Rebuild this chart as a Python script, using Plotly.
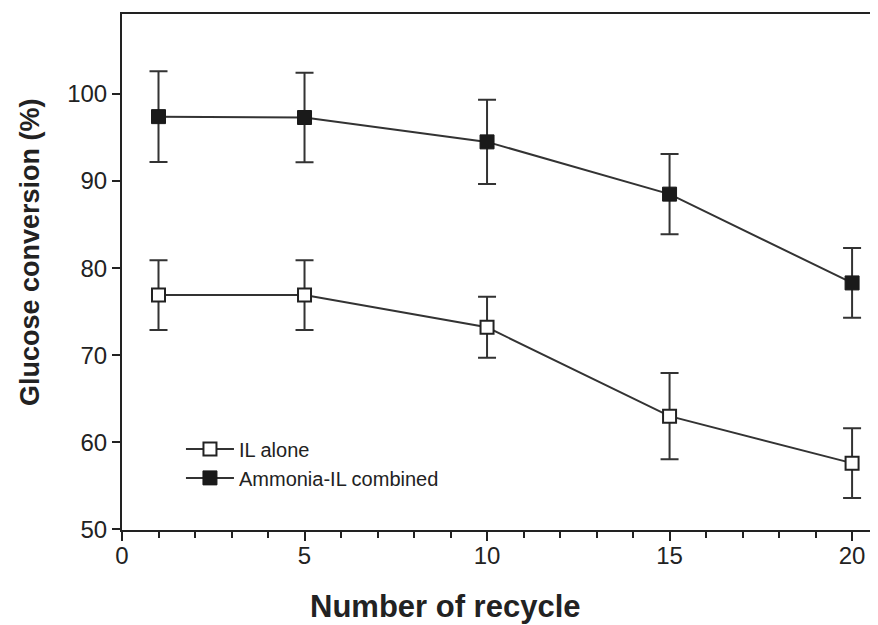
import plotly.graph_objects as go

cycles = [1, 5, 10, 15, 20]
il_alone = [76.9, 76.9, 73.2, 63.0, 57.6]
il_alone_err = [4.0, 4.0, 3.5, 4.95, 4.0]
ammonia_il = [97.4, 97.3, 94.5, 88.5, 78.3]
ammonia_il_err = [5.2, 5.15, 4.85, 4.6, 4.0]

x_ticks = [0, 5, 10, 15, 20]
y_ticks = [50, 60, 70, 80, 90, 100]

FONT = "Liberation Sans, Arial, sans-serif"
INK = "#222222"

# page body has an 8px margin, so the figure is offset by (8, 8)
OFF = 8
W, H = 878 - OFF, 625 - OFF
L, T, B = 122 - OFF, 14 - OFF, 625 - 530
PW, PH = W - L, H - T - B

fig = go.Figure()
fig.add_trace(go.Scatter(
    x=cycles, y=il_alone, name="IL alone", mode="lines+markers",
    line=dict(color="#333333", width=2),
    marker=dict(symbol="square", size=13, color="white", line=dict(color="#222222", width=2)),
    error_y=dict(type="data", array=il_alone_err, visible=True, color="#333333", thickness=2, width=9),
))
fig.add_trace(go.Scatter(
    x=cycles, y=ammonia_il, name="Ammonia-IL combined", mode="lines+markers",
    line=dict(color="#333333", width=2),
    marker=dict(symbol="square", size=14, color="#1a1a1a", line=dict(color="#1a1a1a", width=1)),
    error_y=dict(type="data", array=ammonia_il_err, visible=True, color="#333333", thickness=2, width=9),
))

fig.update_layout(
    width=W, height=H,
    margin=dict(l=L, r=0, t=T, b=B),
    paper_bgcolor="white", plot_bgcolor="white",
    font=dict(family=FONT, color=INK),
    showlegend=True,
    legend=dict(x=0.078, y=0.195, xanchor="left", yanchor="top",
                font=dict(size=20, color=INK), bgcolor="rgba(0,0,0,0)",
                tracegroupgap=0, itemwidth=48),
    xaxis=dict(range=[0, 20.71], tickvals=x_ticks, showgrid=False, zeroline=False,
               showline=True, linecolor="#222222", linewidth=2, mirror=True,
               ticks="outside", ticklen=9, tickwidth=2, tickcolor="#222222",
               tickfont=dict(size=24, color=INK), ticklabelstandoff=-6,
               minor=dict(dtick=1, ticks="outside", ticklen=6, tickwidth=2, tickcolor="#222222", showgrid=False)),
    yaxis=dict(range=[49.92, 109.19], tickvals=y_ticks, showgrid=False, zeroline=False,
               showline=True, linecolor="#222222", linewidth=2,
               ticks="outside", ticklen=8, tickwidth=2, tickcolor="#222222",
               tickfont=dict(size=24, color=INK)),
    annotations=[
        dict(text="<b>Number of recycle</b>", xref="paper", yref="paper",
             x=(445 - 122) / PW, y=-(606 - 530) / PH, xanchor="center", yanchor="middle",
             showarrow=False, font=dict(size=31, color=INK)),
        dict(text="<b>Glucose conversion (%)</b>", xref="paper", yref="paper",
             x=-(122 - 30) / PW, y=(530 - 252) / PH, xanchor="center", yanchor="middle",
             textangle=-90, showarrow=False, font=dict(size=27, color=INK)),
    ],
)

fig.write_html("out.html")
